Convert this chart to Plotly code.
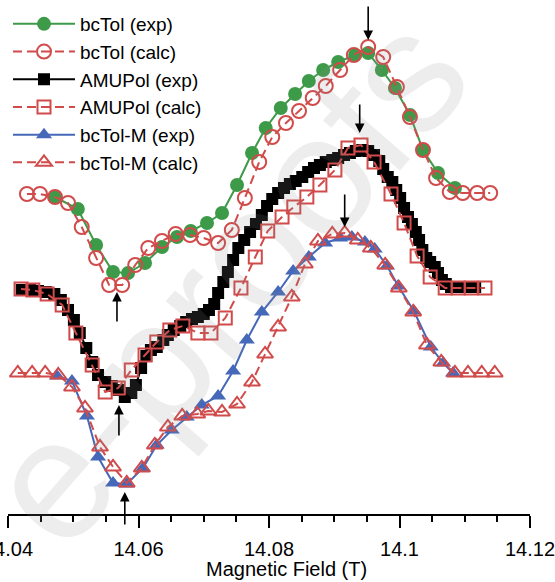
import plotly.graph_objects as go

# ---------------- data (Magnetic field in T, intensity in arbitrary units) ----------------
bctol_exp_x = [14.0472, 14.0507, 14.0535, 14.0561, 14.0584, 14.0610, 14.0636, 14.0659, 14.0680,
               14.0705, 14.0728, 14.0751, 14.0774, 14.0795, 14.0818, 14.0840, 14.0861, 14.0883,
               14.0906, 14.0932, 14.0952, 14.0973, 14.0993, 14.1016, 14.1036, 14.1059, 14.1085]
bctol_exp_y = [3.17, 3.05, 2.69, 2.42, 2.41, 2.51, 2.67, 2.77, 2.83, 2.91, 3.01, 3.29, 3.61, 3.86,
               4.06, 4.20, 4.33, 4.44, 4.52, 4.59, 4.61, 4.44, 4.26, 3.99, 3.64, 3.41, 3.26]

bctol_calc_x = [14.0429, 14.0449, 14.0472, 14.0492, 14.0513, 14.0535, 14.0555, 14.0575, 14.0595,
                14.0615, 14.0636, 14.0657, 14.0679, 14.0700, 14.0722, 14.0743, 14.0763, 14.0785,
                14.0805, 14.0826, 14.0846, 14.0867, 14.0887, 14.0909, 14.0930, 14.0952, 14.0975,
                14.0996, 14.1016, 14.1036, 14.1056, 14.1077, 14.1097, 14.1119, 14.1139]
bctol_calc_y = [3.20, 3.20, 3.17, 3.11, 2.87, 2.56, 2.29, 2.29, 2.49, 2.66, 2.73, 2.80, 2.79, 2.76,
                2.71, 2.84, 3.16, 3.52, 3.77, 3.91, 4.03, 4.16, 4.28, 4.44, 4.59, 4.67, 4.57, 4.27,
                3.97, 3.64, 3.36, 3.22, 3.21, 3.21, 3.21]

amupol_exp_x = [14.0421, 14.0434, 14.0446, 14.0458, 14.0471, 14.0481, 14.0492, 14.0501, 14.0510,
                14.0520, 14.0529, 14.0538, 14.0549, 14.0559, 14.0570, 14.0579, 14.0589, 14.0596,
                14.0604, 14.0612, 14.0619, 14.0628, 14.0638, 14.0645, 14.0654, 14.0664, 14.0673,
                14.0682, 14.0691, 14.0700, 14.0708, 14.0716, 14.0722, 14.0730, 14.0737, 14.0745,
                14.0753, 14.0762, 14.0771, 14.0780, 14.0789, 14.0797, 14.0805, 14.0814, 14.0823,
                14.0832, 14.0841, 14.0851, 14.0860, 14.0869, 14.0878, 14.0887, 14.0897, 14.0906,
                14.0915, 14.0924, 14.0933, 14.0943, 14.0952, 14.0961, 14.0969, 14.0975, 14.0982,
                14.0989, 14.0995, 14.1001, 14.1007, 14.1013, 14.1019, 14.1025, 14.1030, 14.1035,
                14.1041, 14.1047, 14.1054, 14.1059, 14.1065, 14.1071, 14.1079, 14.1088, 14.1097,
                14.1107, 14.1116]
amupol_exp_y = [2.24, 2.24, 2.23, 2.22, 2.20, 2.14, 2.04, 1.94, 1.81, 1.66, 1.52, 1.39, 1.32, 1.28,
                1.24, 1.17, 1.21, 1.29, 1.46, 1.58, 1.64, 1.67, 1.74, 1.79, 1.84, 1.88, 1.92, 1.95,
                1.97, 2.00, 2.04, 2.10, 2.21, 2.32, 2.42, 2.54, 2.66, 2.74, 2.82, 2.90, 2.99, 3.08,
                3.15, 3.21, 3.26, 3.30, 3.33, 3.37, 3.42, 3.46, 3.49, 3.52, 3.54, 3.56, 3.59, 3.61,
                3.63, 3.64, 3.63, 3.59, 3.53, 3.45, 3.37, 3.32, 3.24, 3.16, 3.06, 2.97, 2.90, 2.82,
                2.74, 2.64, 2.56, 2.52, 2.47, 2.41, 2.34, 2.30, 2.27, 2.27, 2.27, 2.27, 2.27]

amupol_calc_x = [14.0420, 14.0438, 14.0460, 14.0483, 14.0504, 14.0529, 14.0549, 14.0569, 14.0589,
                 14.0610, 14.0628, 14.0648, 14.0668, 14.0691, 14.0711, 14.0733, 14.0757, 14.0779,
                 14.0798, 14.0820, 14.0838, 14.0858, 14.0878, 14.0901, 14.0921, 14.0941, 14.0961,
                 14.0987, 14.1007, 14.1027, 14.1047, 14.1070, 14.1090, 14.1110, 14.1131]
amupol_calc_y = [2.25, 2.24, 2.20, 2.09, 1.81, 1.49, 1.22, 1.26, 1.44, 1.59, 1.72, 1.84, 1.88, 1.81,
                 1.81, 1.96, 2.26, 2.57, 2.83, 2.97, 3.07, 3.17, 3.29, 3.44, 3.66, 3.69, 3.52, 3.20,
                 2.91, 2.58, 2.37, 2.26, 2.26, 2.26, 2.26]

bctolm_exp_x = [14.0475, 14.0498, 14.0521, 14.0538, 14.0561, 14.0582, 14.0607, 14.0628, 14.0651,
                14.0674, 14.0697, 14.0722, 14.0745, 14.0766, 14.0789, 14.0814, 14.0837, 14.0861,
                14.0886, 14.0909, 14.0927, 14.0947, 14.0962, 14.0981, 14.0998, 14.1022, 14.1048,
                14.1067, 14.1082]
bctolm_exp_y = [1.38, 1.33, 0.98, 0.57, 0.31, 0.30, 0.46, 0.69, 0.84, 0.97, 1.09, 1.18, 1.43, 1.74,
                2.02, 2.22, 2.43, 2.57, 2.71, 2.76, 2.77, 2.72, 2.65, 2.48, 2.28, 2.03, 1.67, 1.51,
                1.41]

bctolm_calc_x = [14.0415, 14.0437, 14.0457, 14.0477, 14.0498, 14.0518, 14.0541, 14.0561, 14.0582,
                 14.0605, 14.0625, 14.0645, 14.0667, 14.0690, 14.0707, 14.0728, 14.0751, 14.0774,
                 14.0794, 14.0814, 14.0835, 14.0855, 14.0875, 14.0897, 14.0916, 14.0936, 14.0956,
                 14.0978, 14.0999, 14.1021, 14.1042, 14.1064, 14.1085, 14.1105, 14.1126, 14.1146]
bctolm_calc_y = [1.41, 1.41, 1.41, 1.39, 1.27, 1.06, 0.67, 0.47, 0.31, 0.46, 0.69, 0.87, 0.98, 1.00,
                 1.03, 1.02, 1.10, 1.32, 1.60, 1.87, 2.17, 2.50, 2.73, 2.80, 2.81, 2.74, 2.66, 2.49,
                 2.26, 2.02, 1.69, 1.52, 1.41, 1.41, 1.41, 1.41]

# arrows: (field, head intensity, tail intensity)
arrow_x = [14.0567, 14.0570, 14.0579, 14.0952, 14.0939, 14.0916]
arrow_head_y = [2.22, 1.09, 0.22, 4.74, 3.81, 2.87]
arrow_tail_y = [1.91, 0.77, -0.12, 5.09, 4.11, 3.21]

tick_vals = [14.04, 14.06, 14.08, 14.10, 14.12]
tick_text = ["14.04", "14.06", "14.08", "14.1", "14.12"]

GREEN = "#3d9a48"
RED = "#d14b4b"
BLUE = "#4668b8"
BLACK = "#000000"
FONT = "Liberation Sans, Arial, sans-serif"

fig = go.Figure()

def exp_trace(x, y, name, color, symbol, size):
    return go.Scatter(x=x, y=y, name=name, mode="lines+markers",
                      line=dict(color=color, width=2),
                      marker=dict(symbol=symbol, size=size, color=color, line=dict(width=0)),
                      cliponaxis=False)

def calc_trace(x, y, name, symbol, size):
    return go.Scatter(x=x, y=y, name=name, mode="lines+markers",
                      line=dict(color=RED, width=2, dash="9px,5px"),
                      marker=dict(symbol=symbol, size=size, color=RED, line=dict(width=2, color=RED)),
                      cliponaxis=False)

fig.add_trace(exp_trace(bctol_exp_x, bctol_exp_y, "bcTol (exp)", GREEN, "circle", 14))
fig.add_trace(calc_trace(bctol_calc_x, bctol_calc_y, "bcTol (calc)", "circle-open", 14))
fig.add_trace(exp_trace(amupol_exp_x, amupol_exp_y, "AMUPol (exp)", BLACK, "square", 12))
fig.add_trace(calc_trace(amupol_calc_x, amupol_calc_y, "AMUPol (calc)", "square-open", 13))
fig.add_trace(exp_trace(bctolm_exp_x, bctolm_exp_y, "bcTol-M (exp)", BLUE, "triangle-up", 14))
fig.add_trace(calc_trace(bctolm_calc_x, bctolm_calc_y, "bcTol-M (calc)", "triangle-up-open", 14))

annotations = []
# watermark
annotations.append(dict(text="e-proofs", xref="paper", yref="paper", x=0.416, y=0.46,
                        showarrow=False, textangle=-49,
                        font=dict(family=FONT, size=172, color="rgba(140,140,140,0.16)")))
for xa, yh, yt in zip(arrow_x, arrow_head_y, arrow_tail_y):
    annotations.append(dict(x=xa, y=yh, ax=xa, ay=yt, xref="x", yref="y", axref="x", ayref="y",
                            text="", showarrow=True, arrowhead=2, arrowsize=1.2, arrowwidth=1.6,
                            arrowcolor="black", standoff=0, startstandoff=0))
annotations.append(dict(text="Magnetic Field (T)", xref="paper", yref="paper", x=0.534, y=-0.108,
                        showarrow=False, xanchor="center", yanchor="middle",
                        font=dict(family=FONT, size=20, color="black")))

fig.update_layout(
    width=555, height=582,
    template="none",
    paper_bgcolor="white", plot_bgcolor="white",
    margin=dict(l=8, r=25, t=5, b=68),
    font=dict(family=FONT, size=20, color="black"),
    showlegend=True,
    legend=dict(x=0.0, y=1.0, xanchor="left", yanchor="top", bgcolor="rgba(0,0,0,0)",
                font=dict(family=FONT, size=19, color="black"), itemwidth=62,
                tracegroupgap=0),
    annotations=annotations,
    xaxis=dict(range=[14.04, 14.12], tickvals=tick_vals, ticktext=tick_text,
               showline=True, linecolor="black", linewidth=2, mirror=False,
               ticks="outside", ticklen=12, tickwidth=2, tickcolor="black",
               minor=dict(ticks="outside", ticklen=6, tickwidth=2, tickcolor="black", dtick=0.005,
                          showgrid=False),
               showgrid=False, zeroline=False, automargin=False, ticklabeloverflow="allow",
               ticklabelstandoff=4,
               tickfont=dict(family=FONT, size=20, color="black")),
    yaxis=dict(range=[0, 5.09], visible=False, showgrid=False, zeroline=False, automargin=False),
)

fig.write_html("out.html", config={"displayModeBar": False},
               post_script="document.body.style.margin='0px';")
